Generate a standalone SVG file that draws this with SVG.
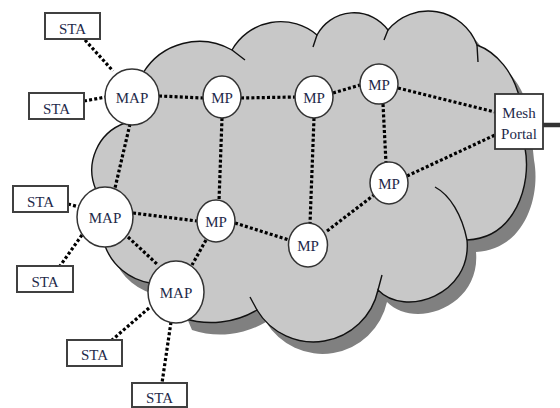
<svg xmlns="http://www.w3.org/2000/svg" width="560" height="408" viewBox="0 0 560 408">
<style>
.cloud{fill:#c8c8c8;stroke:#111;stroke-width:1.4}
.shadow{fill:#808080}
.cusp{fill:none;stroke:#111;stroke-width:1.4}
.link{fill:none;stroke:#000;stroke-width:3.2;stroke-dasharray:3 2.2}
.sta rect{fill:#fff;stroke:#404040;stroke-width:2}
.node ellipse{fill:#fff;stroke:#333;stroke-width:1.5}
.portal rect{fill:#fff;stroke:#333;stroke-width:1.8}
text{font-family:"Liberation Serif","Times New Roman",serif;font-size:15px;fill:#1e2a4a;text-anchor:middle}
</style>
<defs>
<path id="cloudPath" d="M143,73 A66,66 0 0 1 232,50 A56,56 0 0 1 317,35 A42,42 0 0 1 388,30 A52,52 0 0 1 477,45 C496,52 514,72 520,100 L525,148 C532,185 515,238 467,240 C472,295 405,318 378,290 A66,66 0 0 1 257,310 A90,90 0 0 1 183,318 L172,292 L150,283 A58,58 0 0 1 105,246 L100,217 L96,190 A50,50 0 0 1 125,123 L132,97 Z"/>
</defs>
<g id="cloud">
<use href="#cloudPath" class="shadow" transform="translate(9,12)"/>
<use href="#cloudPath" class="cloud"/>
<path class="cusp" d="M232,50 L245,60 M317,35 L313,47 M388,30 L384,40 M477,45 L478,62 M467,240 C462,215 450,195 435,187 M378,290 L382,275 M257,310 L250,297"/>
</g>
<g id="connectors">
<line class="link" x1="85" y1="40" x2="113" y2="71"/>
<line class="link" x1="84" y1="101" x2="106" y2="97"/>
<line class="link" x1="159" y1="96" x2="203" y2="98"/>
<line class="link" x1="241" y1="98" x2="295" y2="97"/>
<line class="link" x1="333" y1="93" x2="360" y2="85"/>
<line class="link" x1="398" y1="88" x2="495" y2="112"/>
<line class="link" x1="383" y1="104" x2="386" y2="163"/>
<line class="link" x1="407" y1="176" x2="495" y2="135"/>
<line class="link" x1="130" y1="124" x2="115" y2="188"/>
<line class="link" x1="222" y1="118" x2="219" y2="201"/>
<line class="link" x1="314" y1="118" x2="310" y2="224"/>
<line class="link" x1="133" y1="213" x2="197" y2="221"/>
<line class="link" x1="235" y1="223" x2="289" y2="240"/>
<line class="link" x1="327" y1="231" x2="374" y2="195"/>
<line class="link" x1="128" y1="237" x2="158" y2="265"/>
<line class="link" x1="206" y1="240" x2="192" y2="265"/>
<line class="link" x1="68" y1="204" x2="79" y2="207"/>
<line class="link" x1="82" y1="235" x2="60" y2="266"/>
<line class="link" x1="149" y1="308" x2="112" y2="340"/>
<line class="link" x1="171" y1="322" x2="162" y2="383"/>
<line x1="543" y1="125" x2="560" y2="125" stroke="#333" stroke-width="4.5"/>
</g>
<g id="sta1" class="sta"><rect x="45" y="13" width="55" height="26"/><text x="72.5" y="34">STA</text></g>
<g id="sta2" class="sta"><rect x="29" y="93" width="55" height="26"/><text x="56.5" y="114">STA</text></g>
<g id="sta3" class="sta"><rect x="13" y="186" width="55" height="26"/><text x="40.5" y="207">STA</text></g>
<g id="sta4" class="sta"><rect x="17" y="266" width="56" height="26"/><text x="45" y="287">STA</text></g>
<g id="sta5" class="sta"><rect x="67" y="340" width="55" height="26"/><text x="94.5" y="360">STA</text></g>
<g id="sta6" class="sta"><rect x="132" y="383" width="55" height="24"/><text x="159.5" y="403">STA</text></g>
<g id="map1" class="node"><ellipse cx="132" cy="97" rx="27" ry="28"/><text x="132" y="102.5">MAP</text></g>
<g id="map2" class="node"><ellipse cx="105" cy="217" rx="28" ry="30"/><text x="105" y="223">MAP</text></g>
<g id="map3" class="node"><ellipse cx="176" cy="292" rx="28" ry="31"/><text x="176" y="297.5">MAP</text></g>
<g id="mp1" class="node"><ellipse cx="222" cy="97" rx="19" ry="21"/><text x="222" y="103">MP</text></g>
<g id="mp2" class="node"><ellipse cx="314" cy="97" rx="19" ry="21"/><text x="314" y="103">MP</text></g>
<g id="mp3" class="node"><ellipse cx="379" cy="84" rx="19" ry="20"/><text x="379" y="90">MP</text></g>
<g id="mp4" class="node"><ellipse cx="389" cy="183" rx="19" ry="21"/><text x="389" y="189">MP</text></g>
<g id="mp5" class="node"><ellipse cx="216" cy="221" rx="19" ry="21"/><text x="216" y="227">MP</text></g>
<g id="mp6" class="node"><ellipse cx="308" cy="245" rx="19.5" ry="22"/><text x="308" y="251">MP</text></g>
<g id="portal" class="portal"><rect x="495" y="94" width="48" height="55"/><text x="519" y="118">Mesh</text><text x="519" y="139">Portal</text></g>
</svg>
